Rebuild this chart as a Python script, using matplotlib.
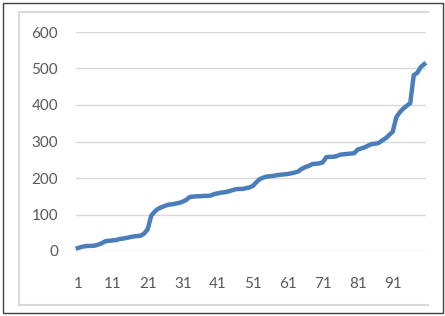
import numpy as np
import matplotlib.pyplot as plt
from matplotlib.lines import Line2D
from matplotlib.patches import Rectangle

# sorted values, 100 points
values = [8, 11, 13, 14, 14, 15, 18, 22, 27, 28,
          29, 30, 33, 34, 36, 38, 40, 41, 42, 48,
          60, 97, 108, 116, 120, 124, 127, 128, 130, 132,
          135, 140, 148, 149, 150, 150, 151, 151, 152, 156,
          158, 160, 161, 163, 166, 169, 170, 170, 172, 174,
          178, 188, 197, 201, 204, 205, 206, 208, 209, 210,
          211, 213, 215, 218, 225, 230, 233, 238, 239, 240,
          243, 257, 258, 258, 260, 264, 265, 266, 267, 268,
          278, 281, 284, 289, 293, 294, 296, 303, 309, 318,
          327, 366, 380, 390, 398, 405, 482, 488, 504, 512]
x = np.arange(1, len(values) + 1)
xticks = list(range(1, 100, 10))
yticks = [0, 100, 200, 300, 400, 500, 600]

plt.rcParams['font.family'] = ['Lato', 'DejaVu Sans']
fig = plt.figure(figsize=(4.45, 3.16), dpi=100)
ax = fig.add_axes([76/445, 65/316, 350/445, 219/316])

ax.plot(x, values, color='#4A7EBB', lw=3.2, solid_joinstyle='round', clip_on=False, zorder=3)
ax.set_xlim(0.5, 100.5)
ax.set_ylim(0, 600)
ax.set_xticks(xticks)
ax.set_yticks(yticks)
ax.grid(axis='y', color='#D9D9D9', lw=1)
ax.set_axisbelow(True)
for s in ax.spines.values():
    s.set_visible(False)
ax.tick_params(length=0, labelsize=11, colors='#595959')
ax.tick_params(axis='y', pad=13)
ax.tick_params(axis='x', pad=19)

# frames
fig.patches.append(Rectangle((3/445, 3/316), 440/445, 310/316, transform=fig.transFigure,
                             fill=False, ec='#404040', lw=1))
fc = '#D9D9D9'
fig.lines.append(Line2D([19/445, 19/445], [11/316, 304/316], transform=fig.transFigure, color=fc, lw=1.5))
fig.lines.append(Line2D([19/445, 428/445], [304/316, 304/316], transform=fig.transFigure, color=fc, lw=1.5))
fig.lines.append(Line2D([19/445, 428/445], [11/316, 11/316], transform=fig.transFigure, color=fc, lw=1.5))

fig.savefig('out.png', dpi=100)
